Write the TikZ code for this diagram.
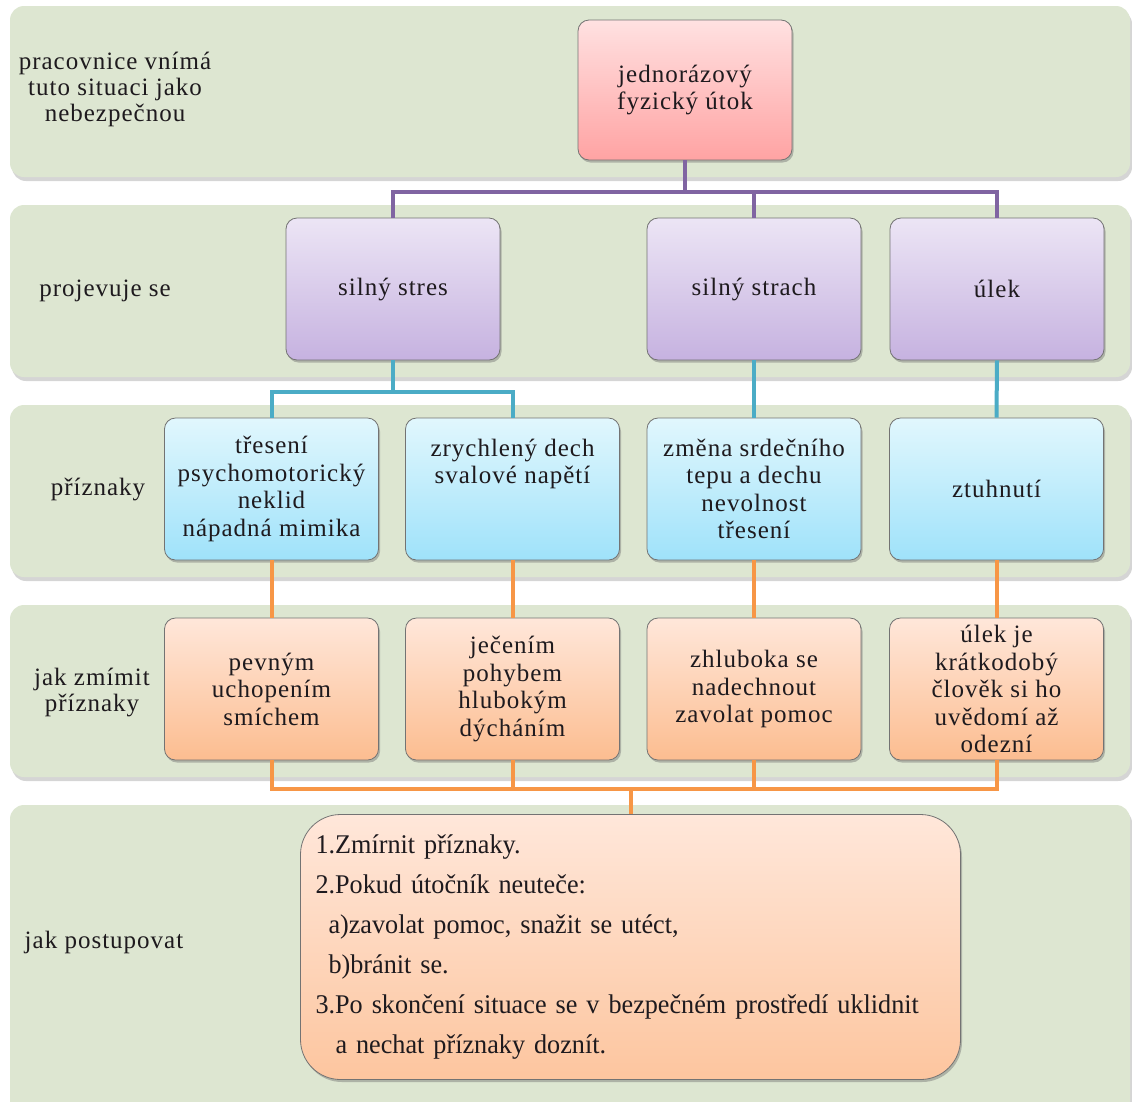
\documentclass[tikz,border=0pt]{standalone}
\usepackage{fontspec}
\setmainfont{Liberation Serif}
\newfontfamily\labelfont[LetterSpace=4]{Liberation Serif}
\newfontfamily\stepfont[FakeStretch=0.97]{Liberation Serif}
\usetikzlibrary{shadows}

\definecolor{bandgreen}{HTML}{DDE6D1}
\definecolor{txt}{HTML}{1E1A1E}
\definecolor{redtop}{HTML}{FFE1E1}
\definecolor{redbot}{HTML}{FFA3A3}
\definecolor{purtop}{HTML}{ECE5F5}
\definecolor{purbot}{HTML}{C6B2E0}
\definecolor{blutop}{HTML}{E1F7FD}
\definecolor{blubot}{HTML}{9FE2FA}
\definecolor{oratop}{HTML}{FFE7DA}
\definecolor{orabot}{HTML}{FCBD90}
\definecolor{purline}{HTML}{8064A2}
\definecolor{bluline}{HTML}{4BACC6}
\definecolor{oraline}{HTML}{F79646}

\begin{document}
\begin{tikzpicture}[x=1pt,y=-1pt,
  band/.style={fill=bandgreen, rounded corners=14pt,
    drop shadow={shadow xshift=2pt,shadow yshift=-4pt,opacity=0.3,fill=black!55}},
  box/.style={draw=black!55, line width=0.8pt, rounded corners=11pt,
    minimum width=214pt, minimum height=142pt, inner sep=2pt,
    align=center, text=txt,
    font=\labelfont\fontsize{25}{27.5}\selectfont,
    drop shadow={shadow xshift=1.5pt,shadow yshift=-2.5pt,opacity=0.4,fill=black!60}},
  redbox/.style={box, minimum height=140pt, top color=redtop, bottom color=redbot},
  purbox/.style={box, top color=purtop, bottom color=purbot},
  blubox/.style={box, top color=blutop, bottom color=blubot},
  orabox/.style={box, top color=oratop, bottom color=orabot},
  stepsbox/.style={draw=black!55, line width=0.8pt, rounded corners=40pt,
    minimum width=660pt, minimum height=265pt, inner xsep=0pt, inner ysep=2pt,
    text width=630pt, align=left, text=txt,
    top color=oratop, bottom color=orabot!80!oratop,
    font=\stepfont\fontsize{27}{40}\selectfont,
    drop shadow={shadow xshift=1.5pt,shadow yshift=-2.5pt,opacity=0.4,fill=black!60}},
  rowlabel/.style={align=center, text=txt, inner sep=0pt,
    font=\labelfont\fontsize{25}{26}\selectfont},
  link/.style={line width=4pt},
  pline/.style={link, draw=purline},
  bline/.style={link, draw=bluline},
  oline/.style={link, draw=oraline}]

\useasboundingbox (0,0) rectangle (1132,1101);

% background bands, one per level
\fill[band] (10,6) rectangle (1130,177);
\fill[band] (10,205) rectangle (1130,377);
\fill[band] (10,405) rectangle (1130,577);
\fill[band] (10,605) rectangle (1130,777);
\fill[band] (10,805) rectangle (1130,1115);

% level captions
\node[rowlabel] (cap1) at (115,89) {pracovnice vnímá\\tuto situaci jako\\nebezpečnou};
\node[rowlabel] (cap2) at (105,291) {projevuje se};
\node[rowlabel] (cap3) at (98,489) {příznaky};
\node[rowlabel] (cap4) at (92,692) {jak zmímit\\příznaky};
\node[rowlabel] (cap5) at (104,942) {jak postupovat};

% event
\node[redbox] (attack) at (685,90) {jednorázový\\fyzický útok};

% reactions
\node[purbox] (stres)  at (393,289) {silný stres};
\node[purbox] (strach) at (754,289) {silný strach};
\node[purbox] (ulek)   at (997,289) {úlek};

% symptoms
\node[blubox] (s1) at (271.5,489) {třesení\\psychomotorický\\neklid\\nápadná mimika};
\node[blubox] (s2) at (512.5,489) {zrychlený dech\\svalové napětí\\[27.5pt]};
\node[blubox] (s3) at (754,489) {změna srdečního\\tepu a dechu\\nevolnost\\třesení};
\node[blubox] (s4) at (996.5,489) {ztuhnutí};

% ways to ease the symptoms
\node[orabox] (r1) at (271.5,689) {pevným\\uchopením\\smíchem};
\node[orabox] (r2) at (512.5,689) {ječením\\pohybem\\hlubokým\\dýcháním};
\node[orabox] (r3) at (754,689) {zhluboka se\\nadechnout\\zavolat pomoc};
\node[orabox] (r4) at (996.5,689) {úlek je\\krátkodobý\\člověk si ho\\uvědomí až\\odezní};

% procedure
\node[stepsbox] (steps) at (630.5,947) {1.Zmírnit příznaky.\\
2.Pokud útočník neuteče:\\
\hspace*{13pt}a)zavolat pomoc, snažit se utéct,\\
\hspace*{13pt}b)bránit se.\\
\mbox{3.Po skončení situace se v bezpečném prostředí uklidnit}\\
\hspace*{20pt}a nechat příznaky doznít.};

% connectors: event -> reactions
\path (attack.south) ++(0,32) coordinate (pj);
\draw[pline] (attack.south) -- (pj) -| (stres.north);
\draw[pline] (pj) -| (strach.north);
\draw[pline] (pj) -| (ulek.north);

% reactions -> symptoms
\path (stres.south) ++(0,32) coordinate (bj);
\draw[bline] (stres.south) -- (bj) -| (s1.north);
\draw[bline] (bj) -| (s2.north);
\draw[bline] (strach.south) -- (s3.north);
\draw[bline] (ulek.south) -- (s4.north);

% symptoms -> remedies
\draw[oline] (s1.south) -- (r1.north);
\draw[oline] (s2.south) -- (r2.north);
\draw[oline] (s3.south) -- (r3.north);
\draw[oline] (s4.south) -- (r4.north);

% remedies -> procedure
\path (steps.north) ++(0,-25) coordinate (oj);
\draw[oline] (r1.south) |- (oj);
\draw[oline] (r4.south) |- (oj);
\draw[oline] (r2.south) -- (r2.south |- oj);
\draw[oline] (r3.south) -- (r3.south |- oj);
\draw[oline] (oj) -- (steps.north);
\end{tikzpicture}
\end{document}
